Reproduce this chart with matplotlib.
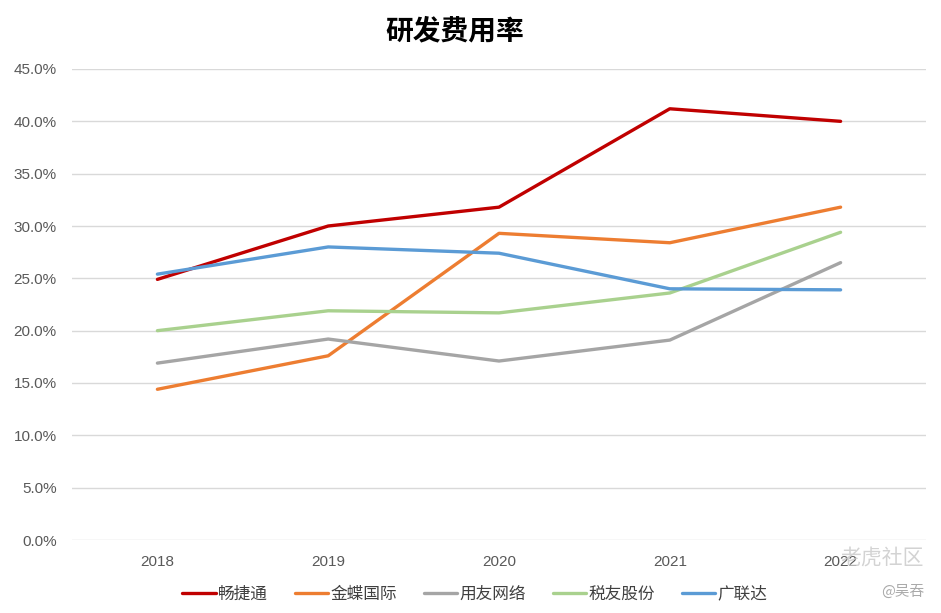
import matplotlib
matplotlib.use("Agg")
import matplotlib.pyplot as plt
from matplotlib.ticker import FuncFormatter, MultipleLocator

plt.rcParams['font.family'] = ['Liberation Sans', 'Noto Sans CJK SC', 'DejaVu Sans']

# data (R&D expense ratio, %)
years = ['2018', '2019', '2020', '2021', '2022']
chanjet = [24.9, 30.0, 31.8, 41.2, 40.0]
kingdee = [14.4, 17.6, 29.3, 28.4, 31.8]
yonyou = [16.9, 19.2, 17.1, 19.1, 26.5]
servyou = [20.0, 21.9, 21.7, 23.6, 29.4]
glodon = [25.4, 28.0, 27.4, 24.0, 23.9]

series = [
    ('畅捷通', chanjet, '#C00000'),
    ('金蝶国际', kingdee, '#ED7D31'),
    ('用友网络', yonyou, '#A5A5A5'),
    ('税友股份', servyou, '#A9D18E'),
    ('广联达', glodon, '#5B9BD5'),
]

fig = plt.figure(figsize=(9.41, 6.13), dpi=100)
ax = fig.add_axes([72 / 941, 1 - 540 / 613, 854 / 941, 471 / 613])

x = list(range(len(years)))
for name, vals, col in series:
    ax.plot(x, vals, color=col, lw=2.4, label=name, solid_capstyle='round')

ax.set_xlim(-0.5, len(years) - 0.5)
ax.set_ylim(0, 45)
ax.yaxis.set_major_locator(MultipleLocator(5))
ax.yaxis.set_major_formatter(FuncFormatter(lambda v, p: f'{v:.1f}%'))
ax.set_xticks(x)
ax.set_xticklabels(years)
ax.tick_params(axis='both', length=0, labelsize=11, colors='#595959')
ax.tick_params(axis='y', pad=11)
ax.tick_params(axis='x', pad=11)
ax.grid(axis='y', color='#D9D9D9', lw=1)
ax.set_axisbelow(True)
for s in ax.spines.values():
    s.set_visible(False)

fig.text(455 / 941, 1 - 31 / 613, '研发费用率', ha='center', va='center',
         fontsize=20, fontweight='bold', family=['Noto Sans CJK SC', 'DejaVu Sans'])

leg = ax.legend(loc='center', bbox_to_anchor=(475 / 941, 1 - 594 / 613),
                bbox_transform=fig.transFigure, ncol=5, frameon=False,
                prop={'family': ['Noto Sans CJK SC'], 'size': 12},
                handlelength=2.0, handletextpad=0.15, columnspacing=1.6)
for t in leg.get_texts():
    t.set_color('#404040')

# watermarks (they sit over the last year label in the original too)
fig.text(924 / 941, 1 - 558 / 613, '老虎社区', ha='right', va='center', fontsize=15,
         color='#C8C8C8', alpha=0.8, family=['Noto Sans CJK SC'])
fig.text(924 / 941, 1 - 592 / 613, '@吴吞', ha='right', va='center', fontsize=10.5,
         color='#AAAAAA', family=['Noto Sans CJK SC'])

fig.savefig('out.png', dpi=100)
